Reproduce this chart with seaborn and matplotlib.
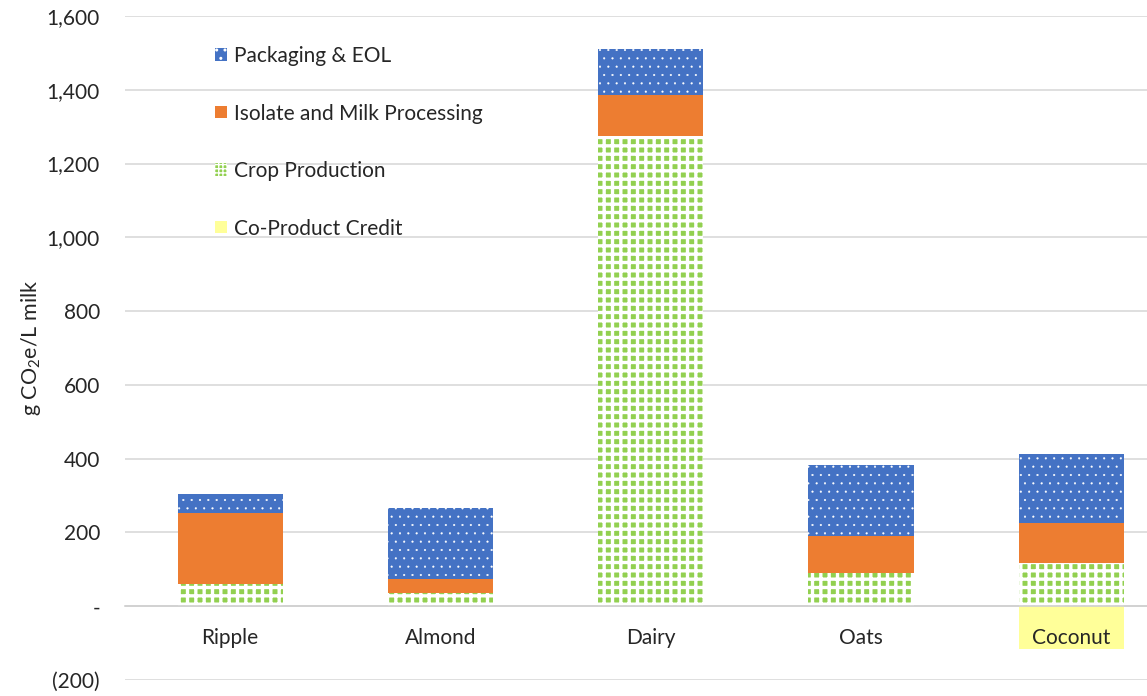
import matplotlib
matplotlib.use("Agg")
import matplotlib.pyplot as plt
import seaborn as sns
import pandas as pd
from matplotlib.patches import Patch
from matplotlib.ticker import FuncFormatter

milks = ["Ripple", "Almond", "Dairy", "Oats", "Coconut"]
crop = [60, 35, 1275, 90, 117]
processing = [193, 38, 110, 100, 108]
packaging = [51, 193, 125, 193, 188]
credit = [0, 0, 0, 0, -115]

df = pd.DataFrame({"milk": milks, "crop": crop, "proc": processing,
                   "pack": packaging, "credit": credit})
df["proc_bottom"] = df["crop"]
df["pack_bottom"] = df["crop"] + df["proc"]

sns.set_style("white")
plt.rcParams["font.family"] = ["Lato", "DejaVu Sans"]

fig = plt.figure(figsize=(11.47, 6.96), dpi=100)
ax = fig.add_axes([125 / 1147, 16 / 696, 1022 / 1147, 664 / 696])

green = "#92D050"
orange = "#ED7D31"
blue = "#4472C4"
yellow = "#FFFF99"
txt = "#262626"

sns.barplot(data=df, x="milk", y="credit", color=yellow, width=0.5,
            saturation=1, linewidth=0, ax=ax, zorder=2)
with plt.rc_context({"hatch.linewidth": 2.4}):
    sns.barplot(data=df, x="milk", y="crop", color=green, width=0.5,
                saturation=1, linewidth=0, edgecolor="white", hatch="++",
                ax=ax, zorder=2)
sns.barplot(data=df, x="milk", y="proc", bottom=df["proc_bottom"], color=orange,
            width=0.5, saturation=1, linewidth=0, ax=ax, zorder=2)
with plt.rc_context({"hatch.linewidth": 0.3}):
    sns.barplot(data=df, x="milk", y="pack", bottom=df["pack_bottom"], color=blue,
                width=0.5, saturation=1, linewidth=0, edgecolor="white", hatch="..",
                ax=ax, zorder=2)

ax.set_ylim(-200, 1600)
ax.set_xlim(-0.5, 4.36)
ax.set_yticks(range(-200, 1601, 200))
ax.yaxis.set_major_formatter(FuncFormatter(
    lambda v, p: "-" if v == 0 else (f"({abs(v):,.0f})" if v < 0 else f"{v:,.0f}")))
ax.grid(axis="y", color="#D9D9D9", linewidth=1.2)
ax.set_axisbelow(True)
ax.xaxis.set_zorder(3)
for s in ["top", "right", "left"]:
    ax.spines[s].set_visible(False)
ax.spines["bottom"].set_position(("data", 0))
ax.spines["bottom"].set_color("#D0D0D0")
ax.spines["bottom"].set_linewidth(1.2)
ax.tick_params(axis="both", length=0, labelsize=15, colors=txt)
ax.tick_params(axis="x", pad=16)
ax.tick_params(axis="y", pad=18)
ax.set_xlabel("")
ax.set_ylabel("g CO$_\\mathregular{2}$e/L milk", fontsize=15.5, color=txt, labelpad=3)

with plt.rc_context({"hatch.linewidth": 1.5}):
    h_pack = Patch(facecolor=blue, edgecolor="white", hatch="..", linewidth=0, label="Packaging & EOL")
    h_crop = Patch(facecolor=green, edgecolor="white", hatch="++++", linewidth=0, label="Crop Production")
handles = [
    h_pack,
    Patch(facecolor=orange, linewidth=0, label="Isolate and Milk Processing"),
    h_crop,
    Patch(facecolor=yellow, linewidth=0, label="Co-Product Credit"),
]
leg = ax.legend(handles=handles, loc="upper left", bbox_to_anchor=(0.07, 0.983),
                frameon=False, fontsize=15, handlelength=0.55, handleheight=0.55,
                handletextpad=0.35, labelspacing=1.8, labelcolor=txt)

fig.savefig("out.png", dpi=100)
